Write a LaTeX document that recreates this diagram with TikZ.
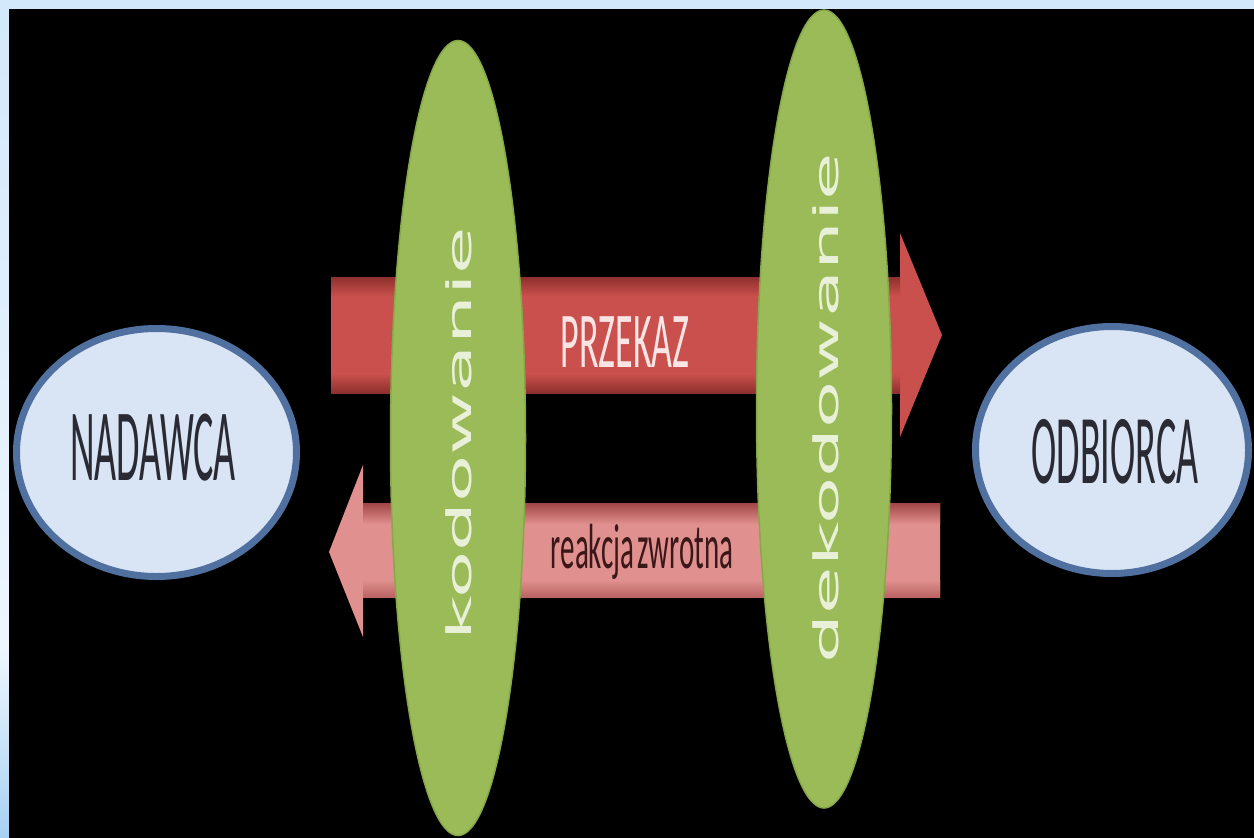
\documentclass[tikz,border=0pt]{standalone}
\usepackage{fontspec}
\setmainfont{Carlito}
\newfontfamily\roundfont{DejaVu Sans}
\usetikzlibrary{shapes.geometric}

\definecolor{frameblue}{HTML}{D3E8FB}
\definecolor{framepale}{HTML}{EEF6FE}
\definecolor{framedeep}{HTML}{A6D0F2}
\definecolor{msgred}{HTML}{C9504C}
\definecolor{msgdark}{HTML}{8E302E}
\definecolor{fbpink}{HTML}{E0908E}
\definecolor{fbdark}{HTML}{A04646}
\definecolor{codegreen}{HTML}{9BBB59}
\definecolor{codeedge}{HTML}{86A84A}
\definecolor{codetext}{HTML}{E8F0D8}
\definecolor{partyfill}{HTML}{D9E5F5}
\definecolor{partyedge}{HTML}{50709F}
\definecolor{partytext}{HTML}{2A2A35}
\definecolor{msgtext}{HTML}{FBE4E4}
\definecolor{fbtext}{HTML}{3A1818}

\tikzset{
  party/.style={ellipse, draw=partyedge, line width=7pt, fill=partyfill, inner sep=0pt},
  partylabel/.style={inner sep=0pt, text=partytext, font=\fontsize{38}{38}\selectfont},
  codeoval/.style={ellipse, draw=codeedge, line width=1.5pt, fill=codegreen, inner sep=0pt},
  codelabel/.style={inner sep=0pt, text=codetext, font=\roundfont\fontsize{34}{34}\selectfont, rotate=90, anchor=base},
}

\begin{document}
\begin{tikzpicture}[x=1pt,y=-1pt]
\useasboundingbox (0,0) rectangle (1254,838);

% light frame and dark slide area
\fill[frameblue] (0,0) rectangle (1254,838);
\shade[top color=frameblue, bottom color=framepale] (0,9) rectangle (9,650);
\shade[top color=framepale, bottom color=framedeep] (0,650) rectangle (9,838);
\fill[black] (9,9) rectangle (1254,838);

% message arrow (sender -> receiver)
\fill[msgred] (331,277) -- (900,277) -- (900,233) -- (942,335)
  -- (900,437) -- (900,393) -- (331,393) -- cycle;
\shade[top color=msgdark, bottom color=msgred] (331,277) rectangle (900,296);
\shade[top color=msgred, bottom color=msgdark] (331,374) rectangle (900,393);

% feedback arrow (receiver -> sender)
\fill[fbpink] (940,503) -- (363,503) -- (363,465) -- (329,552)
  -- (363,637) -- (363,597) -- (940,597) -- cycle;
\shade[top color=fbdark, bottom color=fbpink] (363,503) rectangle (940,524);
\shade[top color=fbpink, bottom color=fbdark!60!fbpink] (363,580) rectangle (940,597);

% coding stages
\node[codeoval, minimum width=135, minimum height=795] (kod) at (458,438) {};
\node[codeoval, minimum width=135, minimum height=798] (dekod) at (824,409) {};
\node[codelabel] (kodlbl) at (471,434) {\scalebox{2.27}[1]{kodowanie}};
\node[codelabel] (dekodlbl) at (838,408) {\scalebox{2.27}[1]{dekodowanie}};

% arrow labels
\node[inner sep=0pt, text=msgtext, font=\fontsize{36}{36}\selectfont] (msg) at (625,342)
  {\scalebox{1}[2.2]{PRZEKAZ}};
\node[inner sep=0pt, text=fbtext, font=\fontsize{29}{29}\selectfont, anchor=base] (fb) at (642,568)
  {\scalebox{1}[2.2]{reakcja\hspace{-0.12em} zwrotna}};

% sender and receiver
\node[party, minimum width=280, minimum height=248] (nad) at (156.5,452.5) {};
\node[party, minimum width=273, minimum height=247] (odb) at (1112,450) {};
\node[partylabel] (nadlbl) at (153,448) {\scalebox{1}[2.7]{NADAWCA}};
\node[partylabel] (odblbl) at (1115,452) {\scalebox{1}[2.6]{ODBIORCA}};
\end{tikzpicture}
\end{document}
